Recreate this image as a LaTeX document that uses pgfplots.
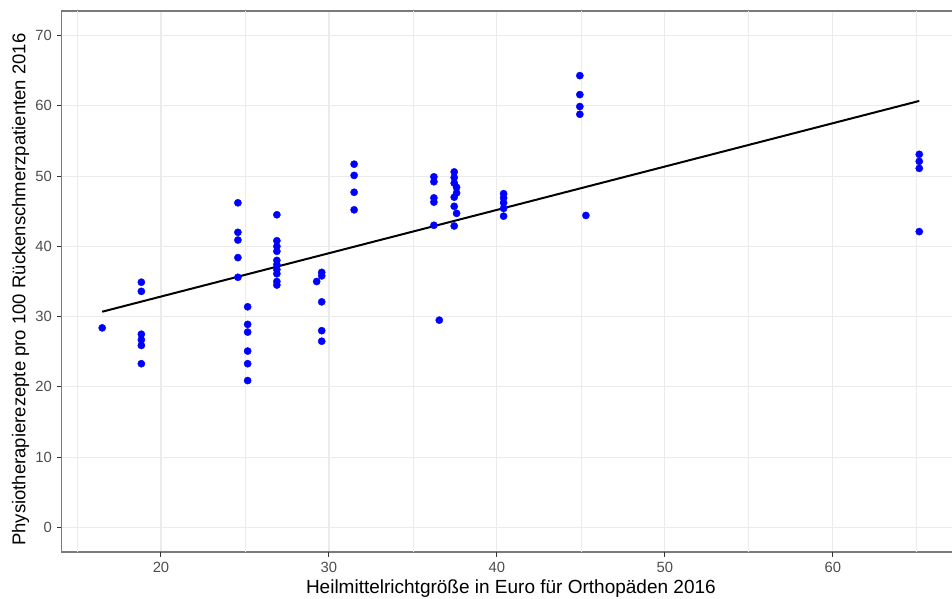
\documentclass[border=0pt]{standalone}
\usepackage{pgfplots}
\pgfplotsset{compat=1.18}
\usepackage{fontspec}
\setmainfont{Liberation Sans}
\definecolor{gridgrey}{HTML}{EBEBEB}
\definecolor{framegrey}{HTML}{333333}
\definecolor{ticktext}{HTML}{4D4D4D}
\definecolor{ptblue}{HTML}{0000FF}

\pgfplotstableread{
x      y
16.50  28.4
18.83  34.9
18.83  33.6
18.83  27.5
18.83  26.7
18.83  25.9
18.83  23.3
24.58  46.2
24.58  42.0
24.58  40.9
24.58  38.4
24.58  35.6
25.16  31.4
25.16  28.9
25.16  27.8
25.16  25.1
25.16  23.3
25.16  20.9
26.90  44.5
26.90  40.8
26.90  40.0
26.90  39.3
26.90  38.0
26.90  37.4
26.90  36.7
26.90  36.1
26.90  35.0
26.90  34.5
29.57  36.3
29.57  35.8
29.27  35.0
29.57  32.1
29.57  28.0
29.57  26.5
31.50  51.7
31.50  50.1
31.50  47.7
31.50  45.2
36.25  49.9
36.25  49.2
36.25  46.9
36.25  46.3
36.25  43.0
36.57  29.5
37.46  50.6
37.46  49.8
37.46  49.0
37.60  48.4
37.60  47.6
37.46  47.0
37.46  45.7
37.60  44.7
37.46  42.9
40.40  47.5
40.40  46.9
40.40  46.2
40.40  45.4
40.40  44.3
44.94  64.3
44.94  61.6
44.94  59.9
44.94  58.8
45.30  44.4
65.15  53.1
65.15  52.1
65.15  51.1
65.15  42.1
}\pointdata

\begin{document}
\begin{tikzpicture}
\begin{axis}[
  name=main,
  scale only axis,
  width=899pt, height=541pt,
  xmin=14.07, xmax=67.6,
  ymin=-3.5, ymax=73.5,
  xtick={20,30,40,50,60},
  ytick={0,10,20,30,40,50,60,70},
  minor tick num=0,
  extra x ticks={15,25,35,45,55,65},
  extra x tick labels={},
  extra x tick style={grid=major,
    major grid style={color=gridgrey,line width=0.7pt},
    major tick length=0pt},
  grid=major,
  major grid style={color=gridgrey,line width=1.2pt},
  axis line style={color=framegrey!65,line width=1.1pt},
  major tick length=0pt,
  xtick pos=lower, ytick pos=left,
  tick label style={font=\fontsize{14.8}{16}\selectfont,text=ticktext},
  xticklabel style={yshift=-7pt},
  yticklabel style={xshift=-6pt},
  /pgf/number format/assume math mode=true,
  xlabel={Heilmittelrichtgröße in Euro für Orthopäden 2016},
  ylabel={Physiotherapierezepte pro 100 Rückenschmerzpatienten 2016},
  xlabel style={font=\fontsize{19}{21}\selectfont,
    at={(axis description cs:0.5,-0.0758)},anchor=base},
  ylabel style={font=\fontsize{18.5}{20}\selectfont,
    at={(axis description cs:-0.040,0.485)},anchor=base},
]
\addplot[only marks,mark=*,mark size=3.6pt,ptblue,mark options={draw=ptblue,fill=ptblue}]
  table[x=x,y=y]{\pointdata};
\addplot[black,line width=2pt] coordinates {(16.5,30.7) (65.15,60.7)};
\end{axis}
% tick marks outside the panel (axis box is 899pt x 541pt)
\begin{scope}[shift={(main.south west)}]
\foreach \tk in {20,30,40,50,60}
  \draw[framegrey,line width=1pt] ({(\tk-14.07)*16.7943pt},0pt) -- ({(\tk-14.07)*16.7943pt},-4.5pt);
\foreach \tk in {0,10,20,30,40,50,60,70}
  \draw[framegrey,line width=1pt] (0pt,{(\tk+3.5)*7.0260pt}) -- (-4.5pt,{(\tk+3.5)*7.0260pt});
\end{scope}
\pgfresetboundingbox
\path (main.south west) ++(-61.4pt,-47pt) coordinate (bl);
\path (main.south west) ++(890.6pt,552pt) coordinate (tr);
\path[use as bounding box] (bl) rectangle (tr);
\end{tikzpicture}
\end{document}
